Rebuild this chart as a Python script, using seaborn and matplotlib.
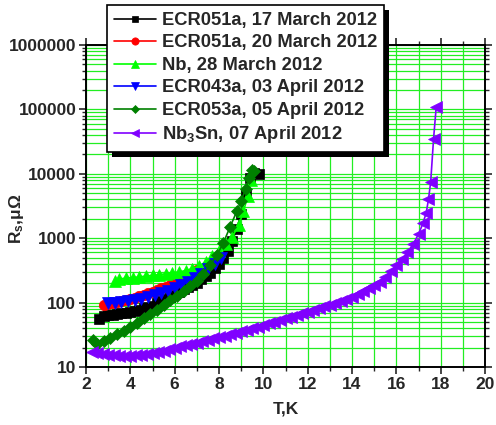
import numpy as np
import pandas as pd
import matplotlib
matplotlib.use("Agg")
import matplotlib.pyplot as plt
import matplotlib.ticker as mticker
import matplotlib.patches as mpatches
import seaborn as sns

# Surface resistance vs temperature
t_051a_17 = [2.6, 2.8, 3.0, 3.2, 3.4, 3.6, 3.8, 4.0, 4.2, 4.4, 4.6, 4.8, 5.0, 5.2, 5.4, 5.6, 5.8, 6.0, 6.2,
             6.4, 6.6, 6.8, 7.0, 7.2, 7.4, 7.6, 7.8, 8.0, 8.2, 8.4, 8.6, 8.8, 9.0, 9.2, 9.4, 9.6, 9.8]
r_051a_17 = [55, 62, 64, 65, 66, 68, 70, 72, 74, 77, 81, 85, 90, 97, 105, 114, 124, 135, 148,
             160, 172, 185, 205, 230, 260, 290, 340, 400, 490, 640, 900, 1400, 2400, 4800, 8500, 10200, 10100]

t_051a_20 = [2.8, 3.0, 3.2, 3.4, 3.6, 3.8, 4.0, 4.2, 4.4, 4.6, 4.8, 5.0, 5.2, 5.4, 5.6, 5.8, 6.0, 6.2, 6.4, 6.6, 6.8, 7.0]
r_051a_20 = [92, 95, 98, 102, 106, 110, 115, 120, 126, 132, 139, 147, 156, 166, 177, 190, 205, 222, 240, 262, 290, 320]

t_nb = [3.3, 3.5, 3.8, 4.1, 4.4, 4.7, 5.0, 5.3, 5.6, 5.9, 6.2, 6.5, 6.8, 7.1, 7.4, 7.7, 8.0, 8.3, 8.6, 8.9,
        9.1, 9.3, 9.45]
r_nb = [215, 232, 240, 245, 250, 258, 265, 272, 280, 290, 300, 315, 335, 370, 430, 520, 640, 800, 1050, 1600,
        2600, 4500, 8000]

t_043a = [3.0, 3.3, 3.6, 3.9, 4.2, 4.5, 4.8, 5.1, 5.4, 5.7, 6.0, 6.3, 6.6, 6.9, 7.2, 7.5, 7.8, 8.1]
r_043a = [97, 99, 102, 105, 110, 115, 122, 130, 140, 152, 168, 188, 210, 240, 280, 330, 400, 500]

t_053a = [2.3, 2.5, 2.8, 3.1, 3.4, 3.7, 4.0, 4.3, 4.6, 4.9, 5.2, 5.5, 5.8, 6.1, 6.4, 6.7, 7.0, 7.3, 7.6, 7.9,
          8.2, 8.5, 8.8, 9.0, 9.2, 9.35, 9.5, 9.6]
r_053a = [26, 23, 25, 28, 32, 36, 42, 49, 57, 66, 78, 92, 108, 128, 150, 180, 220, 280, 380, 540,
          850, 1500, 2600, 3800, 5800, 8500, 11500, 11000]

t_nb3sn = [2.25, 2.5, 2.75, 3.0, 3.25, 3.5, 3.75, 4.0, 4.25, 4.5, 4.75, 5.0, 5.25, 5.5, 5.75, 6.0, 6.25, 6.5,
           6.75, 7.0, 7.25, 7.5, 7.75, 8.0, 8.25, 8.5, 8.75, 9.0, 9.25, 9.5, 9.75, 10.0, 10.25, 10.5, 10.75,
           11.0, 11.25, 11.5, 11.75, 12.0, 12.25, 12.5, 12.75, 13.0, 13.25, 13.5, 13.75, 14.0, 14.25, 14.5,
           14.75, 15.0, 15.25, 15.5, 15.75, 16.0, 16.25, 16.5, 16.75, 17.0, 17.2, 17.35, 17.45, 17.55, 17.68, 17.8]
r_nb3sn = [17, 16.3, 15.8, 15.4, 15.2, 15.0, 15.0, 15.0, 15.2, 15.5, 16.0, 16.5, 17.2, 18.0, 19.0, 20.0, 21.0, 22.0,
           23.0, 24.0, 25.2, 26.5, 27.8, 29, 30.5, 32, 34, 36, 38, 40, 42.5, 45, 47.5, 50, 53.5,
           57, 60.5, 64, 68, 72, 77, 82, 87, 93, 99, 106, 114, 123, 135, 150,
           166, 185, 212, 250, 305, 380, 470, 600, 800, 1150, 1700, 2500, 4000, 7500, 35000, 110000]

labels = ["ECR051a, 17 March 2012", "ECR051a, 20 March 2012", "Nb, 28 March 2012",
          "ECR043a, 03 April 2012", "ECR053a, 05 April 2012", r"Nb$_3$Sn, 07 April 2012"]
series = [(t_051a_17, r_051a_17), (t_051a_20, r_051a_20), (t_nb, r_nb),
          (t_043a, r_043a), (t_053a, r_053a), (t_nb3sn, r_nb3sn)]
colors = ["#000000", "#ff0000", "#00ff00", "#0000ff", "#008000", "#8000ff"]
markers = ["s", "o", "^", "v", "D", "<"]
msizes = [7, 7.5, 8, 8, 6.5, 8]

sns.set_style("ticks")
plt.rcParams["font.family"] = ["Liberation Sans", "DejaVu Sans"]
plt.rcParams["font.weight"] = "bold"
plt.rcParams["mathtext.fontset"] = "custom"
plt.rcParams["mathtext.rm"] = "Liberation Sans:bold"
plt.rcParams["mathtext.it"] = "Liberation Sans:bold"
plt.rcParams["mathtext.bf"] = "Liberation Sans:bold"

fig = plt.figure(figsize=(4.96, 4.25), dpi=100)
ax = fig.add_axes([86 / 496, 1 - 367 / 425, 399 / 496, 322 / 425])

for (t, r), lab, c, m, ms in zip(series, labels, colors, markers, msizes):
    df = pd.DataFrame({"T": t, "R": r})
    sns.lineplot(data=df, x="T", y="R", ax=ax, color=c, marker=m, markersize=ms,
                 markeredgecolor=c, markeredgewidth=0.5, linewidth=1.2, label=lab,
                 sort=False, estimator=None)

ax.set_yscale("log")
ax.set_xlim(2, 20)
ax.set_ylim(10, 1e6)

ax.xaxis.set_major_locator(mticker.MultipleLocator(2))
ax.xaxis.set_minor_locator(mticker.MultipleLocator(1))
ax.yaxis.set_major_locator(mticker.LogLocator(base=10))
ax.yaxis.set_minor_locator(mticker.LogLocator(base=10, subs=np.arange(2, 10)))
ax.yaxis.set_major_formatter(mticker.FuncFormatter(lambda v, p: f"{int(round(v))}"))
ax.yaxis.set_minor_formatter(mticker.NullFormatter())

ax.grid(True, which="both", color="#22ee22", linewidth=0.9)
ax.set_axisbelow(True)

for sp in ax.spines.values():
    sp.set_linewidth(1.4)
    sp.set_color("black")

ax.tick_params(which="major", direction="out", length=5, width=1.2, labelsize=12.5, pad=2)
ax.tick_params(which="minor", direction="out", length=3, width=1.0)
ax.tick_params(which="both", right=True, top=True)
for lab in ax.get_xticklabels() + ax.get_yticklabels():
    lab.set_fontweight("bold")

ax.set_xlabel("T,K", fontsize=12.5, fontweight="bold", labelpad=7)
ax.set_ylabel(r"R$_s$,μΩ", fontsize=12.5, fontweight="bold")
ax.yaxis.set_label_coords(-0.15, 0.46)

leg = ax.legend(loc="upper left", bbox_to_anchor=(107 / 496, 1 - 5 / 425), bbox_transform=fig.transFigure,
                borderaxespad=0, frameon=True, fancybox=False,
                prop={"weight": "bold", "size": 13.2}, handlelength=2.3, handletextpad=0.3,
                labelspacing=0.3, borderpad=0.38, markerscale=0.7)
leg.get_frame().set_edgecolor("black")
leg.get_frame().set_linewidth(1.2)
leg.get_frame().set_alpha(1)
leg.set_zorder(10)

# heavy black drop shadow behind the legend box
fig.canvas.draw()
bb = leg.get_window_extent()
shadow = mpatches.Rectangle((bb.x0 + 5, bb.y0 - 5), bb.width, bb.height, transform=None,
                            facecolor="black", edgecolor="none", zorder=9, clip_on=False)
ax.add_artist(shadow)

fig.savefig("out.png", dpi=100)
